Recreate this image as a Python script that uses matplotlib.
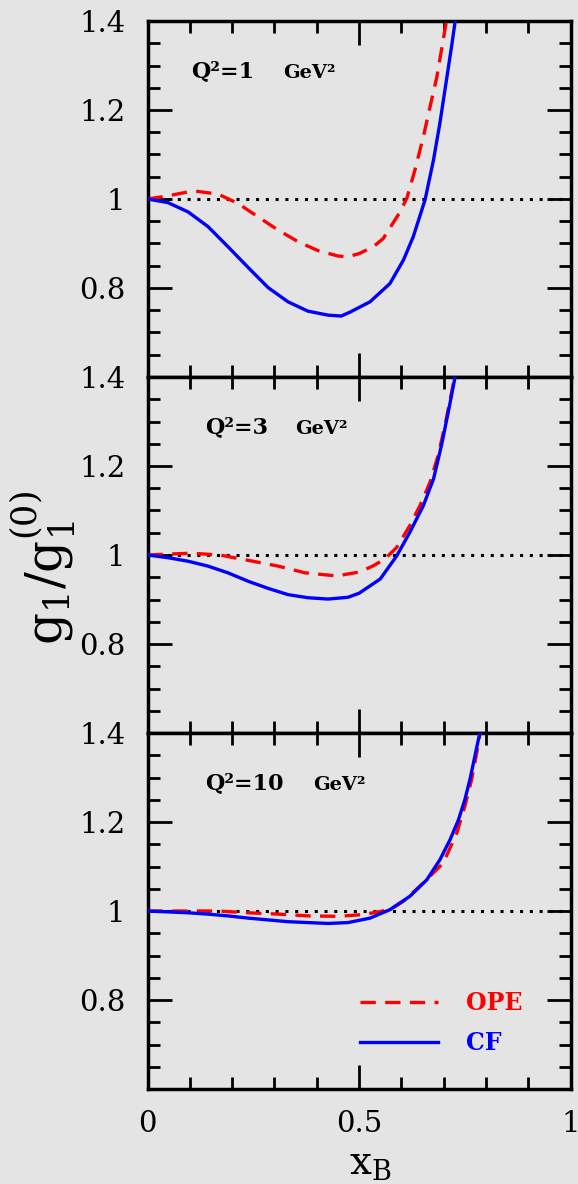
import matplotlib
matplotlib.use("Agg")
import matplotlib.pyplot as plt
from matplotlib.ticker import MultipleLocator

# ---------------- data ----------------
q2_labels = ["Q²=1", "Q²=3", "Q²=10"]
unit_label = "GeV²"
series_labels = ["OPE", "CF"]

# Q^2 = 1 GeV^2
x_cf_1 = [0, .048, .096, .143, .19, .238, .285, .332, .379, .427, .458, .479, .526, .573,
          .605, .628, .656, .676, .691, .707, .719, .728]
y_cf_1 = [1, .992, .971, .938, .893, .846, .801, .769, .748, .739, .737, .746, .769, .81,
          .863, .915, .998, 1.088, 1.17, 1.27, 1.345, 1.405]
x_ope_1 = [0, .048, .096, .119, .167, .214, .261, .309, .356, .403, .45, .474, .502, .534,
           .557, .577, .597, .613, .632, .652, .668, .684, .695, .707]
y_ope_1 = [1, 1.007, 1.016, 1.017, 1.011, .990, .96, .930, .904, .884, .872, .870, .878, .893,
           .911, .941, .971, 1.002, 1.065, 1.14, 1.208, 1.275, 1.336, 1.403]

# Q^2 = 3 GeV^2
x_cf_3 = [0, .048, .096, .143, .19, .238, .285, .332, .379, .427, .474, .5, .55, .589,
          .62, .652, .676, .695, .711, .727]
y_cf_3 = [1, .994, .986, .975, .96, .941, .925, .911, .904, .901, .905, .914, .946, .998,
          1.051, 1.111, 1.171, 1.247, 1.322, 1.4]
x_ope_3 = [0, .048, .104, .171, .238, .309, .372, .447, .502, .534, .561, .589, .62, .644,
           .668, .687, .705, .727]
y_ope_3 = [1, 1.002, 1.004, 1.0, .988, .975, .96, .953, .962, .976, .991, 1.017, 1.066, 1.111,
           1.164, 1.224, 1.30, 1.405]

# Q^2 = 10 GeV^2
x_cf_10 = [0, .048, .096, .143, .19, .238, .285, .332, .379, .427, .474, .526, .573, .62,
           .66, .691, .715, .735, .75, .762, .772, .782, .786]
y_cf_10 = [1, .998, .996, .993, .989, .984, .98, .976, .974, .972, .974, .984, 1.003, 1.033,
           1.07, 1.115, 1.16, 1.205, 1.25, 1.295, 1.34, 1.385, 1.4]
x_ope_10 = [0, .1, .167, .238, .309, .38, .45, .51, .573, .605, .652, .699, .731, .75,
            .766, .778, .786]
y_ope_10 = [1, 1.0, 1.0, .996, .993, .989, .988, .992, 1.003, 1.022, 1.063, 1.108, 1.175, 1.235,
            1.295, 1.355, 1.4]

panels = [
    (x_ope_1, y_ope_1, x_cf_1, y_cf_1),
    (x_ope_3, y_ope_3, x_cf_3, y_cf_3),
    (x_ope_10, y_ope_10, x_cf_10, y_cf_10),
]

x_ticks = [0, 0.5, 1]
x_ticklabels = ["0", "0.5", "1"]
y_ticks = [0.6, 0.8, 1.0, 1.2, 1.4]
y_ticklabels = ["", "0.8", "1", "1.2", "1.4"]

# ---------------- style / layout ----------------
label_x = [0.104, 0.137, 0.137]
unit_x = [0.32, 0.349, 0.391]

bg = "#e4e4e4"
plt.rcParams["font.family"] = ["DejaVu Serif"]
plt.rcParams["mathtext.fontset"] = "dejavuserif"

fig = plt.figure(figsize=(5.78, 11.84), dpi=100, facecolor=bg)
W, H = 578.0, 1184.0
left = 147.5 / W
width = (570.6 - 147.5) / W
ph = 356.0 / H
bottom0 = 1 - 1089.0 / H

axes = []
for i in range(3):
    b = bottom0 + (2 - i) * ph
    ax = fig.add_axes([left, b, width, ph], facecolor=bg)
    axes.append(ax)

for i, ax in enumerate(axes):
    xo, yo, xc, yc = panels[i]
    ax.plot([0, 1], [1, 1], color="black", lw=2.2, linestyle=(0, (1, 2.2)), zorder=2)
    ax.plot(xo, yo, color="#ff0000", lw=2.4, linestyle=(0, (4.6, 2.8)),
            label=series_labels[0], zorder=3)
    ax.plot(xc, yc, color="#0000ff", lw=2.4, label=series_labels[1], zorder=4)
    ax.set_xlim(0, 1)
    ax.set_ylim(0.6, 1.4)
    ax.set_xticks(x_ticks)
    ax.xaxis.set_minor_locator(MultipleLocator(0.1))
    ax.set_yticks(y_ticks)
    ax.set_yticklabels(y_ticklabels)
    ax.yaxis.set_minor_locator(MultipleLocator(0.05))
    if i == 2:
        ax.set_xticklabels(x_ticklabels)
    else:
        ax.set_xticklabels([])
    ax.tick_params(which="both", direction="in", top=True, right=True, width=2.0, labelsize=21)
    ax.tick_params(which="major", length=17)
    ax.tick_params(which="minor", length=8.6)
    ax.tick_params(axis="y", pad=16)
    ax.tick_params(axis="x", pad=15)
    for s in ax.spines.values():
        s.set_linewidth(2.5)
    ax.text(label_x[i], 1.287, q2_labels[i], fontsize=16, fontweight="bold",
            ha="left", va="center")
    ax.text(unit_x[i], 1.284, unit_label, fontsize=14, fontweight="bold",
            ha="left", va="center")

leg = axes[2].legend(loc="upper left", bbox_to_anchor=(0.502, 0.275), frameon=False,
                     handlelength=3.3, handletextpad=1.2, labelspacing=0.68,
                     borderpad=0, borderaxespad=0, labelcolor="linecolor",
                     prop={"family": "DejaVu Serif", "weight": "bold", "size": 17})

fig.text(43 / W, 1 - 568 / H, r"$\mathrm{g_1/g_1^{(0)}}$", rotation=90, fontsize=36,
         ha="center", va="center")
fig.text(370 / W, 1 - 1163 / H, r"$\mathrm{x_B}$", fontsize=28, ha="center", va="center")

fig.savefig("out.png", dpi=100, facecolor=bg)
